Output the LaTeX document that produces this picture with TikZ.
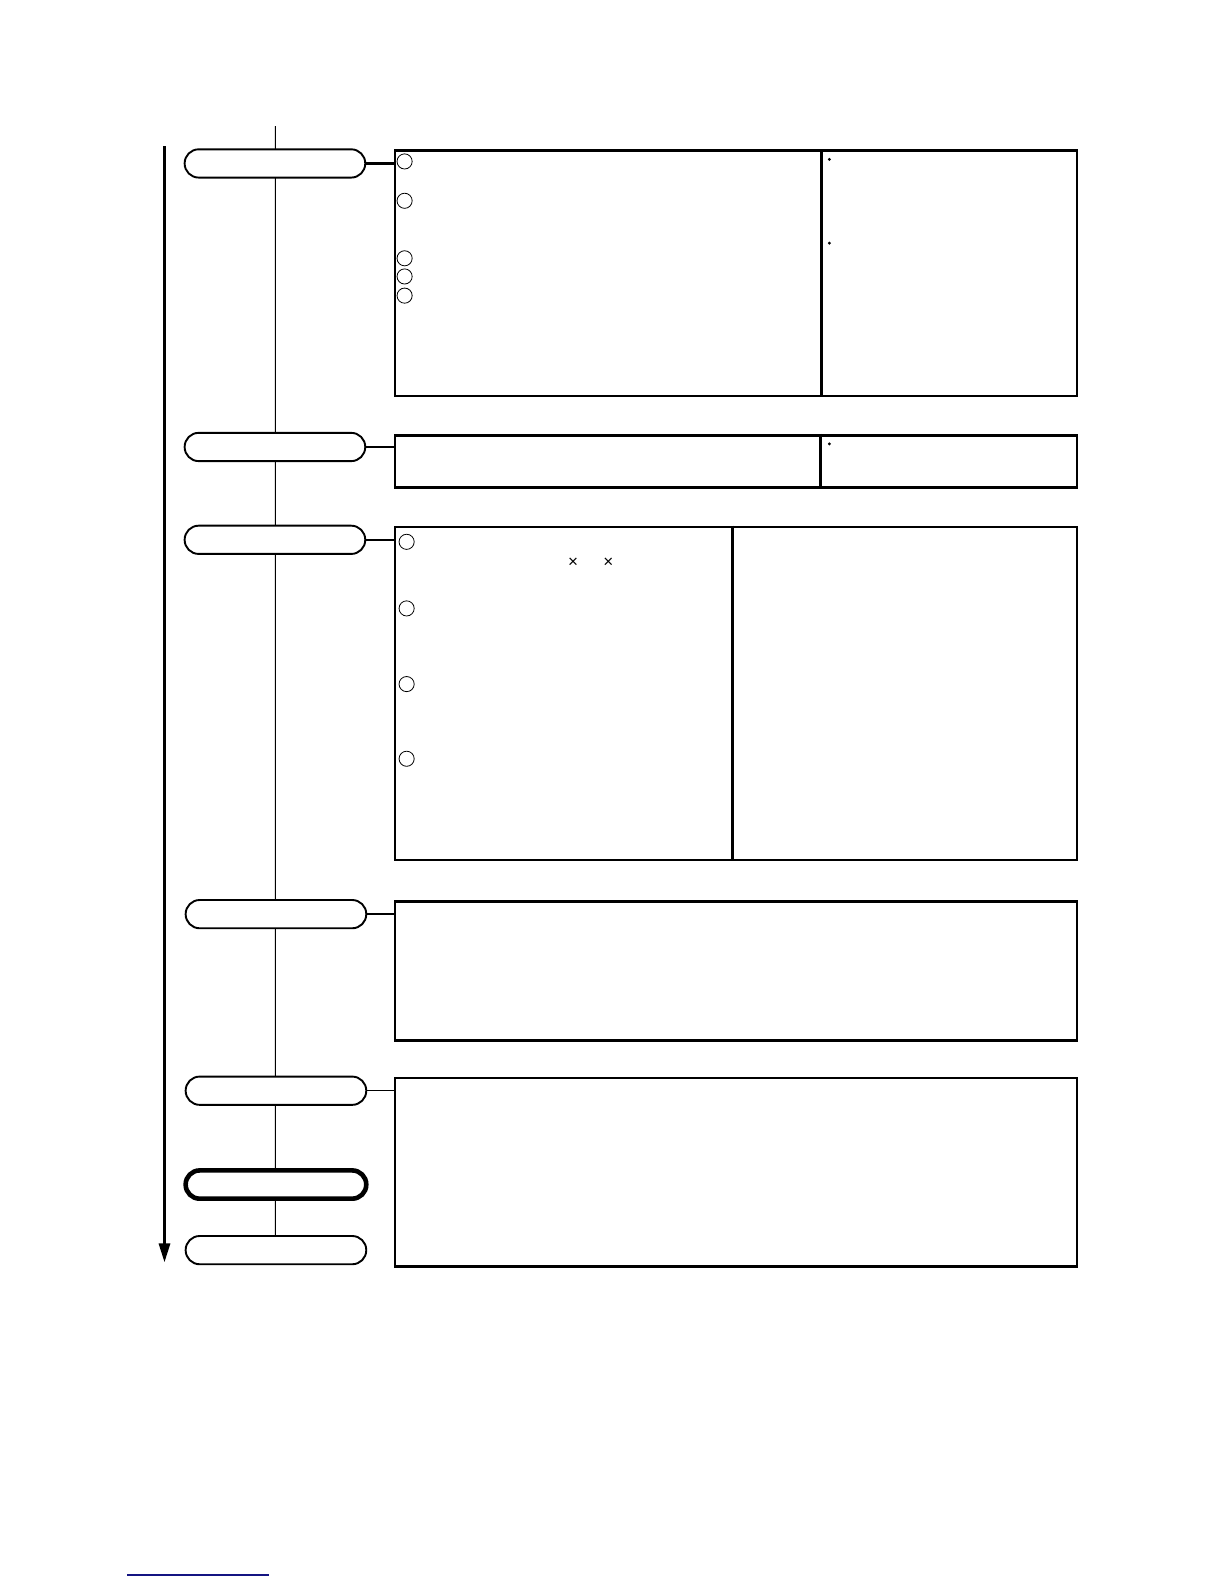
\documentclass[tikz,border=0pt]{standalone}
\usetikzlibrary{arrows.meta}
\usepackage{fontspec}
\newfontfamily\symfont{Liberation Sans}
\definecolor{linknavy}{RGB}{20,20,130}
\begin{document}
\begin{tikzpicture}[x=1bp,y=-1bp,scale=1.009,
  every node/.style={transform shape},
  stadium/.style={draw, fill=white, line width=1.9bp, rounded corners=14bp, minimum width=179bp, minimum height=28bp, inner sep=0pt},
  thickstadium/.style={stadium, line width=4.6bp},
  panel/.style={draw, line width=2.7bp, anchor=north west, inner sep=0pt},
  divider/.style={line width=2.7bp},
  linkline/.style={line width=2.2bp},
  thinlink/.style={line width=1bp},
  spine/.style={line width=1bp},
  numcircle/.style={circle, draw, line width=0.8bp, minimum size=15bp, inner sep=0pt},
  bulletdot/.style={circle, fill=black, minimum size=3.2bp, inner sep=0pt},
  timesmark/.style={inner sep=0pt, font=\symfont\fontsize{17}{17}\selectfont},
  timearrow/.style={line width=3bp, -{Triangle[length=19bp,width=11bp]}}
]
\useasboundingbox (0,0) rectangle (1213.1,1569.9);
\fill[white] (0,0) rectangle (1213.1,1569.9);

% coordinates
\coordinate (spinetop) at (273,125);
\coordinate (arrtop) at (163,145);
\coordinate (arrbot) at (163,1251);

% spine behind stadiums
\draw[spine] (spinetop) -- (273,1239);

% time arrow
\draw[timearrow] (arrtop) -- (arrbot);

% stadiums
\node[stadium] (s1) at (272.5,162) {};
\node[stadium] (s2) at (272.5,443) {};
\node[stadium] (s3) at (272.5,535) {};
\node[stadium] (s4) at (273.5,906) {};
\node[stadium] (s5) at (273.5,1081) {};
\node[thickstadium] (s6) at (273.5,1174) {};
\node[stadium] (s7) at (273.5,1239) {};

% panels
\node[panel, minimum width=676bp, minimum height=243bp] (b1) at (390,148) {};
\node[panel, minimum width=676bp, minimum height=52bp] (b2) at (390,430) {};
\node[panel, minimum width=676bp, minimum height=330bp] (b3) at (390,521) {};
\node[panel, minimum width=676bp, minimum height=138bp] (b4) at (390,892) {};
\node[panel, minimum width=676bp, minimum height=187bp] (b5) at (390,1067) {};

% dividers
\draw[divider] (814,148) -- (814,391);
\draw[divider] (813,430) -- (813,482);
\draw[divider] (726,521) -- (726,851);

% connectors
\draw[linkline] (s1.east) -- (s1.east -| b1.west);
\draw[linkline] (s2.east) -- (s2.east -| b2.west);
\draw[linkline] (s3.east) -- (s3.east -| b3.west);
\draw[linkline] (s4.east) -- (s4.east -| b4.west);
\draw[thinlink] (s5.east) -- (s5.east -| b5.west);

% numbered circles
\node[numcircle] (c11) at (401,160) {};
\node[numcircle] (c12) at (401,199) {};
\node[numcircle] (c13) at (401,256) {};
\node[numcircle] (c14) at (401,274) {};
\node[numcircle] (c15) at (401,293) {};
\node[numcircle] (c31) at (403,537) {};
\node[numcircle] (c32) at (403,603) {};
\node[numcircle] (c33) at (403,678) {};
\node[numcircle] (c34) at (403,752) {};

% bullets
\node[bulletdot] (d1) at (822,158) {};
\node[bulletdot] (d2) at (822,241) {};
\node[bulletdot] (d3) at (822,440) {};

% times marks
\node[timesmark] (x1) at (568,558) {×};
\node[timesmark] (x2) at (603,558) {×};

% link underline
\draw[linknavy, line width=1.5bp] (126,1561) -- (266.6,1561);
\end{tikzpicture}
\end{document}
